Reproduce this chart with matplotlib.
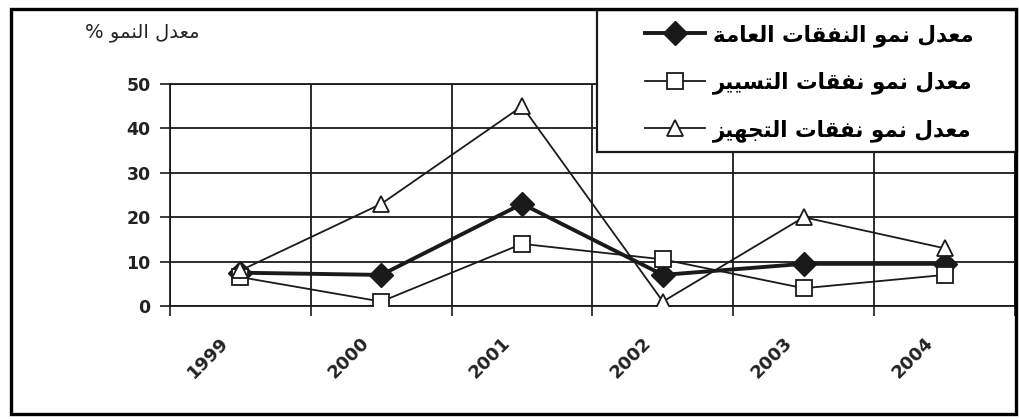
import matplotlib
matplotlib.use("Agg")
import matplotlib.pyplot as plt
from matplotlib.patches import Rectangle
from matplotlib.font_manager import FontProperties
from matplotlib.transforms import ScaledTranslation

# ---- data -------------------------------------------------------------
years = ["1999", "2000", "2001", "2002", "2003", "2004"]
general_growth = [7.5, 7, 23, 7, 9.5, 9.5]      # معدل نمو النفقات العامة
operating_growth = [6.5, 1, 14, 10.5, 4, 7]      # معدل نمو نفقات التسيير
equipment_growth = [8, 23, 45, 1, 20, 13]        # معدل نمو نفقات التجهيز
series_labels = [
    "معدل نمو النفقات العامة",
    "معدل نمو نفقات التسيير",
    "معدل نمو نفقات التجهيز",
]
y_title = "معدل النمو %"
y_ticks = [0, 10, 20, 30, 40, 50]

# ---- Arabic shaping (contextual forms, right-to-left) ----------------
# (isolated, final, initial, medial); right-joining letters have no
# initial/medial forms.
FORMS = {
    "ا": ("\uFE8D", "\uFE8E", None, None),
    "ة": ("\uFE93", "\uFE94", None, None),
    "ت": ("\uFE95", "\uFE96", "\uFE97", "\uFE98"),
    "ج": ("\uFE9D", "\uFE9E", "\uFE9F", "\uFEA0"),
    "د": ("\uFEA9", "\uFEAA", None, None),
    "ر": ("\uFEAD", "\uFEAE", None, None),
    "ز": ("\uFEAF", "\uFEB0", None, None),
    "س": ("\uFEB1", "\uFEB2", "\uFEB3", "\uFEB4"),
    "ع": ("\uFEC9", "\uFECA", "\uFECB", "\uFECC"),
    "ف": ("\uFED1", "\uFED2", "\uFED3", "\uFED4"),
    "ق": ("\uFED5", "\uFED6", "\uFED7", "\uFED8"),
    "ل": ("\uFEDD", "\uFEDE", "\uFEDF", "\uFEE0"),
    "م": ("\uFEE1", "\uFEE2", "\uFEE3", "\uFEE4"),
    "ن": ("\uFEE5", "\uFEE6", "\uFEE7", "\uFEE8"),
    "ه": ("\uFEE9", "\uFEEA", "\uFEEB", "\uFEEC"),
    "و": ("\uFEED", "\uFEEE", None, None),
    "ي": ("\uFEF1", "\uFEF2", "\uFEF3", "\uFEF4"),
}


def arabic(text):
    chars = list(text)
    out = []
    for i, c in enumerate(chars):
        if c not in FORMS:
            out.append(c)
            continue
        forms = FORMS[c]
        prev = chars[i - 1] if i > 0 else None
        nxt = chars[i + 1] if i + 1 < len(chars) else None
        join_prev = prev in FORMS and FORMS[prev][2] is not None
        join_next = forms[2] is not None and nxt in FORMS
        if join_prev and join_next:
            out.append(forms[3])
        elif join_prev:
            out.append(forms[1])
        elif join_next:
            out.append(forms[2])
        else:
            out.append(forms[0])
    return "".join(reversed(out))


# ---- figure -----------------------------------------------------------
W, H = 1020, 419
fig = plt.figure(figsize=(W / 100, H / 100), dpi=100)
fig.patch.set_facecolor("white")


def fx(px):
    return px / W


def fy(py):
    return 1 - py / H


ax = fig.add_axes([fx(170), fy(306), fx(1015) - fx(170), fy(84) - fy(306)])
x = list(range(len(years)))
ink = "#1a1a1a"

ax.plot(x, general_growth, color=ink, lw=2.8, marker="D", ms=12,
        mfc=ink, mec=ink, label=arabic(series_labels[0]), zorder=3)
ax.plot(x, operating_growth, color=ink, lw=1.3, marker="s", ms=11,
        mfc="white", mec=ink, mew=1.3, label=arabic(series_labels[1]), zorder=4)
ax.plot(x, equipment_growth, color=ink, lw=1.3, marker="^", ms=12,
        mfc="white", mec=ink, mew=1.3, label=arabic(series_labels[2]), zorder=5)

ax.set_xlim(-0.5, len(years) - 0.5)
ax.set_ylim(0, 50)
ax.set_yticks(y_ticks)
ax.set_yticklabels([str(v) for v in y_ticks])

# category boundaries carry the ticks and vertical grid lines,
# category centres carry the year labels
ax.set_xticks([i - 0.5 for i in range(len(years) + 1)])
ax.set_xticklabels([])
ax.set_xticks(x, minor=True)
ax.set_xticklabels(years, minor=True, rotation=45, ha="right", va="top",
                   rotation_mode="anchor")
ax.tick_params(axis="x", which="major", length=7, width=1.2, color=ink,
               direction="out")
ax.tick_params(axis="x", which="minor", length=0, pad=20)
ax.tick_params(axis="y", length=7, width=1.2, color=ink, pad=7)

for lab in ax.get_xticklabels(minor=True):
    lab.set_fontfamily("DejaVu Sans")
    lab.set_fontweight("bold")
    lab.set_fontsize(13)
    lab.set_color("#222222")
    lab.set_transform(lab.get_transform()
                      + ScaledTranslation(-0.21, 0, fig.dpi_scale_trans))
for lab in ax.get_yticklabels():
    lab.set_fontfamily("DejaVu Sans")
    lab.set_fontweight("bold")
    lab.set_fontsize(12.5)
    lab.set_color("#222222")

ax.grid(True, which="major", color=ink, lw=1.3)
ax.set_axisbelow(True)
for sp in ax.spines.values():
    sp.set_color(ink)
    sp.set_linewidth(1.3)

# legend panel in the upper right
fig.add_artist(Rectangle((fx(597), fy(152)), fx(1017) - fx(597),
                         fy(10) - fy(152), transform=fig.transFigure,
                         facecolor="white", edgecolor=ink, lw=1.6, zorder=4))
leg = fig.legend(loc="upper left", bbox_to_anchor=(fx(645), fy(24)),
                 frameon=False, borderpad=0, borderaxespad=0,
                 handlelength=2.8, handletextpad=0.35, labelspacing=1.15,
                 prop=FontProperties(family="DejaVu Sans", weight="bold",
                                     size=15.5))
leg.set_zorder(5)

fig.text(fx(200), fy(32), arabic(y_title), ha="right", va="center",
         family="DejaVu Sans", fontsize=14, color="#222222")

# outer frame
fig.add_artist(Rectangle((fx(11), fy(414)), fx(1016) - fx(11),
                         fy(9) - fy(414), transform=fig.transFigure,
                         facecolor="none", edgecolor="black", lw=2.4,
                         zorder=6))

fig.savefig("out.png", dpi=100)
